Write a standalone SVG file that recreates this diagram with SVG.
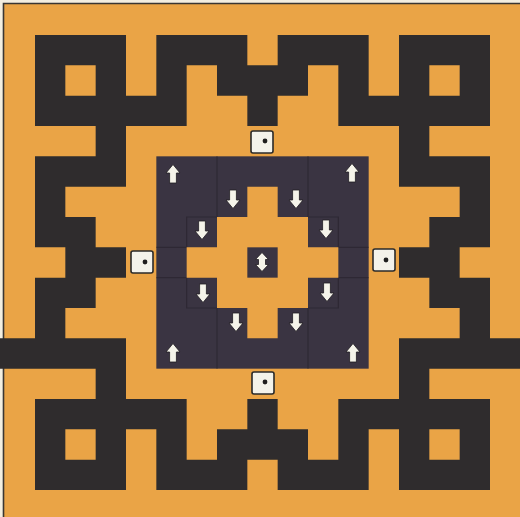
<svg xmlns="http://www.w3.org/2000/svg" width="520" height="517" viewBox="0 0 520 517">
  <defs>
    <style>
      .blk { fill: #2f2c2d; }
      .org { fill: #eaa446; }
      .inner { fill: #3a3442; }
      .arrow { fill: #f5f4ea; stroke: #1f1c22; stroke-width: 0.8; stroke-linejoin: round; }
      .die { fill: #f3f2ea; stroke: #2a2a2a; stroke-width: 1.6; }
      .dot { fill: #1e1e1e; }
      .ring { fill: none; stroke: #27222c; stroke-width: 0.04; opacity: 0.6; }
    </style>
    <path id="up" class="arrow" d="M0 -9.5 L7 -1 H3.4 V9 H-3.4 V-1 H-7 Z"/>
    <path id="down" class="arrow" d="M0 9.5 L7 1 H3.4 V-9 H-3.4 V1 H-7 Z"/>
  </defs>

  <!-- paper and frame -->
  <rect x="0" y="0" width="520" height="517" fill="#f3eee0"/>
  <rect x="4" y="4" width="516" height="513" class="org"/>
  <path d="M3.5 517 V3.5 H520" fill="none" stroke="#3a3632" stroke-width="1.6"/>

  <!-- outer black meander pattern (grid units) -->
  <g id="meander" transform="translate(35 35) scale(30.3333)">
    <path class="blk" d="
      M0 0h3v1h-3z M4 0h3v1h-3z M8 0h3v1h-3z M12 0h3v1h-3z
      M0 1h3v1h-3z M4 1h1v1h-1z M6 1h3v1h-3z M10 1h1v1h-1z M12 1h3v1h-3z
      M0 2h5v1h-5z M7 2h1v1h-1z M10 2h5v1h-5z
      M2 3h1v1h-1z M12 3h1v1h-1z
      M0 4h3v1h-3z M12 4h3v1h-3z
      M0 5h1v1h-1z M14 5h1v1h-1z
      M0 6h2v1h-2z M13 6h2v1h-2z
      M1 7h2v1h-2z M12 7h2v1h-2z
      M0 8h2v1h-2z M13 8h2v1h-2z
      M0 9h1v1h-1z M14 9h1v1h-1z
      M-1.2 10h4.2v1h-4.2z M12 10h4.2v1h-4.2z
      M2 11h1v1h-1z M12 11h1v1h-1z
      M0 12h5v1h-5z M7 12h1v1h-1z M10 12h5v1h-5z
      M0 13h3v1h-3z M4 13h1v1h-1z M6 13h3v1h-3z M10 13h1v1h-1z M12 13h3v1h-3z
      M0 14h3v1h-3z M4 14h3v1h-3z M8 14h3v1h-3z M12 14h3v1h-3z"/>
    <path class="org" d="M1 1h1v1h-1z M13 1h1v1h-1z M1 13h1v1h-1z M13 13h1v1h-1z"/>
  </g>

  <!-- central dark square with orange stepped cross -->
  <g id="centre" transform="translate(35 35) scale(30.3333)">
    <rect class="inner" x="4" y="4" width="7" height="7"/>
    <path class="ring" d="M6 4V6H5V7H4 M4 8H5V9H6V11 M9 4V6H10V7H11 M11 8H10V9H9V11"/>
    <path class="org" d="M7 5H8V6H9V7H10V8H9V9H8V10H7V9H6V8H5V7H6V6H7Z"/>
    <rect class="inner" x="7" y="7" width="1" height="1"/>
  </g>

  <!-- arrows -->
  <g id="arrows">
    <use href="#up" x="173" y="174"/>
    <use href="#up" x="352" y="173"/>
    <use href="#up" x="173" y="353"/>
    <use href="#up" x="353" y="353"/>
    <use href="#down" x="233" y="199"/>
    <use href="#down" x="296" y="199"/>
    <use href="#down" x="202" y="230"/>
    <use href="#down" x="326" y="229"/>
    <use href="#down" x="203" y="293"/>
    <use href="#down" x="327" y="292"/>
    <use href="#down" x="236" y="322"/>
    <use href="#down" x="296" y="322"/>
    <path class="arrow" transform="translate(262 262)" d="M0 -9.5 L6.5 -2.5 H3.5 V2.5 H6.5 L0 9.5 L-6.5 2.5 H-3.5 V-2.5 H-6.5 Z"/>
  </g>

  <!-- dice -->
  <g id="die-top">
    <rect class="die" x="251" y="131" width="22" height="22" rx="2"/>
    <circle class="dot" cx="265" cy="141" r="2.4"/>
  </g>
  <g id="die-left">
    <rect class="die" x="131" y="251" width="22" height="22" rx="2"/>
    <circle class="dot" cx="145" cy="262" r="2.4"/>
  </g>
  <g id="die-right">
    <rect class="die" x="373" y="249" width="22" height="22" rx="2"/>
    <circle class="dot" cx="386" cy="260" r="2.4"/>
  </g>
  <g id="die-bottom">
    <rect class="die" x="252" y="372" width="22" height="22" rx="2"/>
    <circle class="dot" cx="265" cy="382" r="2.4"/>
  </g>
</svg>
